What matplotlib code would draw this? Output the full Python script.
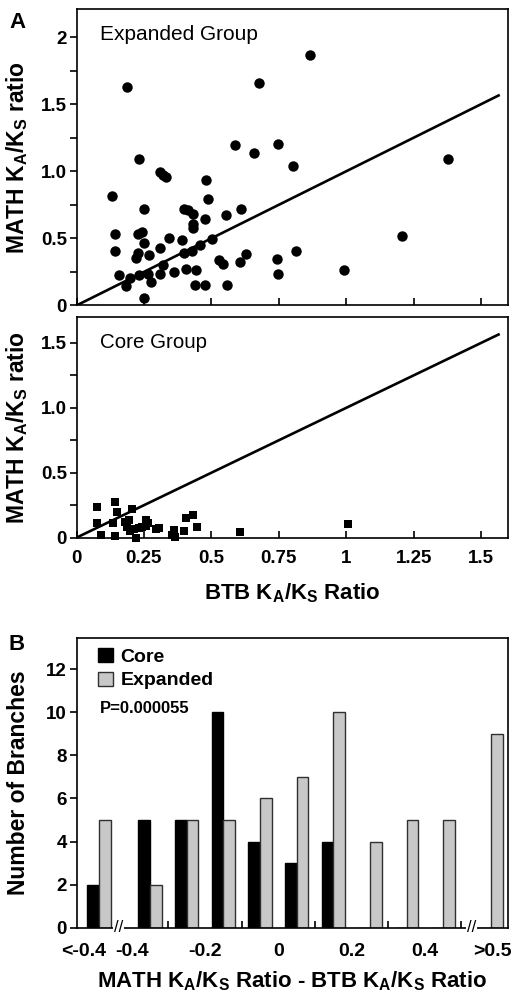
import matplotlib
matplotlib.use("Agg")
import matplotlib.pyplot as plt
import matplotlib.transforms as mtransforms

plt.rcParams['font.family'] = "Liberation Sans"
plt.rcParams['font.weight'] = "bold"
plt.rcParams['axes.labelweight'] = "bold"
plt.rcParams['mathtext.default'] = "regular"

# panel A, expanded group (BTB ratio, MATH ratio)
exp_x = [0.188, 0.675, 0.867, 0.588, 0.658, 0.747, 0.23, 0.804, 1.377,
         1.206, 0.814, 0.743, 0.746, 0.993,
         0.309, 0.321, 0.331, 0.132, 0.48, 0.488, 0.252, 0.40, 0.414, 0.431, 0.556, 0.611, 0.475, 0.432, 0.431,
         0.143, 0.228, 0.244, 0.249, 0.343, 0.391, 0.501, 0.143, 0.311, 0.459, 0.228, 0.222, 0.268, 0.397, 0.43,
         0.527, 0.542, 0.607, 0.628, 0.156, 0.2, 0.184, 0.232, 0.264, 0.277, 0.311, 0.321, 0.363, 0.407, 0.444,
         0.44, 0.478, 0.559, 0.249]
exp_y = [1.63, 1.66, 1.87, 1.194, 1.14, 1.2, 1.09, 1.043, 1.09,
         0.517, 0.405, 0.343, 0.231, 0.266,
         0.995, 0.975, 0.955, 0.818, 0.933, 0.793, 0.716, 0.716, 0.709, 0.679, 0.677, 0.721, 0.642, 0.61, 0.58,
         0.53, 0.53, 0.547, 0.468, 0.505, 0.485, 0.493, 0.403, 0.43, 0.453, 0.39, 0.356, 0.376, 0.39, 0.405,
         0.341, 0.306, 0.323, 0.383, 0.224, 0.204, 0.144, 0.224, 0.231, 0.174, 0.231, 0.304, 0.251, 0.274, 0.266,
         0.149, 0.149, 0.149, 0.057]

# panel A, core group
core_x = [0.077, 0.077, 0.089, 0.144, 0.151, 0.136, 0.142, 0.207, 0.181, 0.188,
          0.2, 0.219, 0.231, 0.243, 0.259, 0.256, 0.295, 0.307, 0.36, 0.354,
          0.367, 0.4, 0.407, 0.431, 0.447, 0.607, 1.005, 0.196, 0.215, 0.265]
core_y = [0.239, 0.111, 0.021, 0.277, 0.2, 0.116, 0.015, 0.219, 0.123, 0.085,
          0.052, 0.0, 0.072, 0.08, 0.136, 0.09, 0.065, 0.072, 0.059, 0.021,
          0.003, 0.054, 0.149, 0.175, 0.085, 0.041, 0.103, 0.135, 0.07, 0.11]

# y = x reference line
line_x = [0, 1.565]
line_y = [0, 1.565]

# panel B histogram
bin_centers = [-0.49, -0.35, -0.25, -0.15, -0.05, 0.05, 0.15, 0.25, 0.35, 0.45, 0.58]
core_counts = [2, 5, 5, 10, 4, 3, 4, 0, 0, 0, 0]
expanded_counts = [5, 2, 5, 5, 6, 7, 10, 4, 5, 5, 9]
b_tick_pos = [-0.532, -0.4, -0.2, 0, 0.2, 0.4, 0.585]
b_tick_labels = ["<-0.4", "-0.4", "-0.2", "0", "0.2", "0.4", ">0.5"]
b_minor = [-0.4, -0.3, -0.2, -0.1, 0, 0.1, 0.2, 0.3, 0.4, 0.5]
break_x = [-0.437, 0.527]

fig = plt.figure(figsize=(5.19, 9.94), dpi=100)
L, W = 0.1474, 0.8314
ax1 = fig.add_axes([L, 0.6927, W, 0.2983])
ax2 = fig.add_axes([L, 0.4591, W, 0.2220])
ax3 = fig.add_axes([L, 0.0667, W, 0.2918])

kslabel = "MATH K$_A$/K$_S$ ratio"

for ax in (ax1, ax2):
    for s in ax.spines.values():
        s.set_linewidth(1.2)
    ax.set_xlim(0, 1.6)
    ax.set_xticks([0, 0.25, 0.5, 0.75, 1.0, 1.25, 1.5])
    ax.tick_params(axis='x', direction='in', length=5, width=1.2, pad=9, labelsize=13.5)
    ax.tick_params(axis='y', which='both', direction='out', length=5, width=1.2, pad=2, labelsize=13.5)
    ax.plot(line_x, line_y, color='black', lw=1.9)
    ax.set_ylabel(kslabel, fontsize=16.5)
    ax.yaxis.set_label_coords(-0.107, 0.5)

ax1.plot(exp_x, exp_y, 'o', color='black', ms=7.5, mew=0, clip_on=False)
ax1.set_ylim(0, 2.21)
ax1.set_yticks([0, 0.5, 1.0, 1.5, 2.0])
ax1.set_yticklabels(["0", "0.5", "1.0", "1.5", "2"])
ax1.set_yticks([0.25, 0.75, 1.25, 1.75], minor=True)
ax1.set_xticklabels([])
ax1.text(0.054, 0.914, "Expanded Group", transform=ax1.transAxes,
         fontsize=15, fontweight='normal', va='center')

ax2.plot(core_x, core_y, 's', color='black', ms=6, mew=0, clip_on=False)
ax2.set_ylim(0, 1.7)
ax2.set_yticks([0, 0.5, 1.0, 1.5])
ax2.set_yticklabels(["0", "0.5", "1.0", "1.5"])
ax2.set_yticks([0.25, 0.75, 1.25], minor=True)
ax2.set_xticklabels(["0", "0.25", "0.5", "0.75", "1", "1.25", "1.5"])
ax2.set_xlabel("BTB K$_A$/K$_S$ Ratio", fontsize=16, labelpad=10)
ax2.text(0.054, 0.885, "Core Group", transform=ax2.transAxes,
         fontsize=14.8, fontweight='normal', va='center')

# panel B
w = 0.032
bx_core = [c - w / 2 for c in bin_centers]
bx_exp = [c + w / 2 for c in bin_centers]
ax3.bar(bx_core, core_counts, w, color='black', edgecolor='black', lw=1, label="Core")
ax3.bar(bx_exp, expanded_counts, w, color='#c8c8c8', edgecolor='#303030', lw=1, label="Expanded")
for s in ax3.spines.values():
    s.set_linewidth(1.2)
ax3.set_xlim(-0.551, 0.627)
ax3.set_ylim(0, 13.46)
ax3.set_yticks(range(0, 13, 2))
ax3.set_xticks(b_tick_pos)
ax3.set_xticklabels(b_tick_labels)
ax3.set_xticks(b_minor, minor=True)
ax3.tick_params(axis='x', which='major', length=0, pad=11, labelsize=14)
ax3.tick_params(axis='x', which='minor', direction='in', length=5, width=1.2)
ax3.tick_params(axis='y', direction='out', length=5, width=1.2, pad=2, labelsize=13.5)
ax3.set_ylabel("Number of Branches", fontsize=16.5)
ax3.yaxis.set_label_coords(-0.107, 0.5)
ax3.set_xlabel("MATH K$_A$/K$_S$ Ratio - BTB K$_A$/K$_S$ Ratio", fontsize=16, labelpad=7)

trans = mtransforms.blended_transform_factory(ax3.transData, ax3.transAxes)
for xb in break_x:
    ax3.text(xb, 0, "//", transform=trans, ha='center', va='center', fontsize=12,
             fontweight='normal', clip_on=False,
             bbox=dict(fc='white', ec='none', pad=0.5))

ax3.legend(loc='upper left', bbox_to_anchor=(0.05, 0.965), frameon=False,
           fontsize=14, handlelength=0.75, handleheight=0.75, handletextpad=0.4,
           labelspacing=0.3, borderaxespad=0, borderpad=0)
ax3.text(0.055, 0.755, "P=0.000055", transform=ax3.transAxes, fontsize=12, va='center')

fig.text(18 / 519, 1 - 23 / 994, "A", fontsize=16, ha='center', va='center')
fig.text(17 / 519, 1 - 644 / 994, "B", fontsize=16, ha='center', va='center')

fig.savefig("out.png", dpi=100)
